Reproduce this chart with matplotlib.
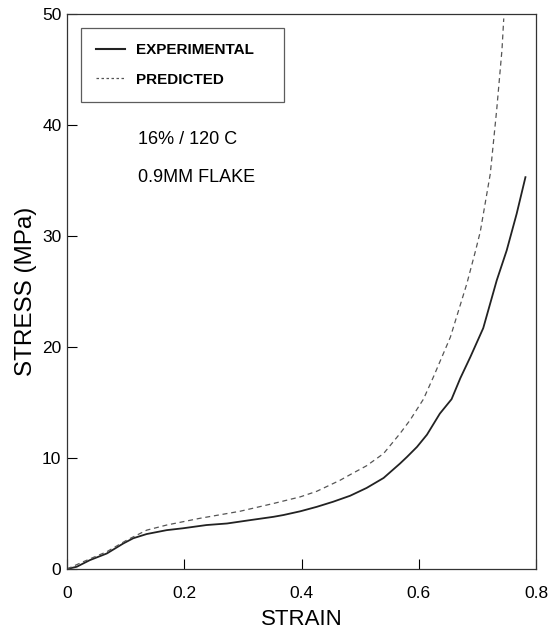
import numpy as np
import matplotlib.pyplot as plt
from matplotlib.lines import Line2D

# experimental curve (solid)
exp_strain = [0.0, 0.0165, 0.039, 0.068, 0.096, 0.113, 0.136, 0.17, 0.198, 0.238,
              0.273, 0.312, 0.352, 0.369, 0.398, 0.426, 0.454, 0.483, 0.511, 0.54,
              0.568, 0.58, 0.597, 0.614, 0.636, 0.656, 0.671, 0.688, 0.71, 0.733,
              0.75, 0.767, 0.782]
exp_stress = [0.0, 0.2, 0.8, 1.4, 2.3, 2.77, 3.15, 3.5, 3.67, 3.96,
              4.1, 4.4, 4.7, 4.86, 5.2, 5.6, 6.06, 6.6, 7.3, 8.2,
              9.5, 10.1, 11.0, 12.1, 14.0, 15.3, 17.2, 19.1, 21.7, 26.0,
              28.7, 32.0, 35.3]

# predicted curve (dashed)
pred_strain = [0.0, 0.028, 0.068, 0.102, 0.136, 0.17, 0.227, 0.295, 0.352, 0.398,
               0.426, 0.466, 0.483, 0.511, 0.54, 0.568, 0.585, 0.608, 0.625, 0.654,
               0.682, 0.697, 0.705, 0.722, 0.733, 0.742, 0.745]
pred_stress = [0.0, 0.66, 1.56, 2.6, 3.5, 3.96, 4.57, 5.2, 5.9, 6.5,
               7.0, 8.0, 8.5, 9.3, 10.4, 12.2, 13.4, 15.3, 17.3, 20.9,
               25.7, 28.7, 30.4, 35.6, 41.4, 46.8, 49.6]

plt.rcParams['font.family'] = ['Liberation Sans', 'DejaVu Sans']

fig = plt.figure(figsize=(5.5, 6.31), dpi=100)
ax = fig.add_axes([67/550, 1 - 569/631, (536-67)/550, (569-14)/631])

ax.plot(exp_strain, exp_stress, color='#222222', lw=1.3, ls='-')
ax.plot(pred_strain, pred_stress, color='#555555', lw=0.9, ls=(0, (4, 3)))

ax.set_xlim(0, 0.8)
ax.set_ylim(0, 50)
ax.set_xticks([0, 0.2, 0.4, 0.6, 0.8])
ax.set_xticklabels(['0', '0.2', '0.4', '0.6', '0.8'])
ax.set_yticks([0, 10, 20, 30, 40, 50])
ax.tick_params(direction='in', length=7, width=0.8, labelsize=12.5)
ax.tick_params(axis='x', pad=12)
ax.tick_params(axis='y', pad=4)
for s in ax.spines.values():
    s.set_linewidth(0.9)
    s.set_color('#333333')

ax.set_xlabel('STRAIN', fontsize=16, labelpad=6)
ax.set_ylabel('STRESS (MPa)', fontsize=17.5, labelpad=4)

handles = [Line2D([], [], color='#222222', lw=1.5),
           Line2D([], [], color='#555555', lw=0.9, ls=(0, (2, 2)))]
leg = ax.legend(handles, ['EXPERIMENTAL', 'PREDICTED'], loc='upper left',
                bbox_to_anchor=(14/469, 1 - 14/555, 203/469, 0), mode='expand',
                fontsize=11, fancybox=False, edgecolor='#333333',
                handlelength=1.85, handletextpad=0.75, labelspacing=1.0,
                borderpad=1.0, borderaxespad=0)
leg.get_frame().set_linewidth(0.9)
for t in leg.get_texts():
    t.set_fontweight('bold')

ax.text(138/550, 1 - 139/631, '16% / 120 C', transform=fig.transFigure,
        fontsize=13, ha='left', va='center')
ax.text(138/550, 1 - 177/631, '0.9MM FLAKE', transform=fig.transFigure,
        fontsize=13, ha='left', va='center')

fig.savefig('out.png', dpi=100)
